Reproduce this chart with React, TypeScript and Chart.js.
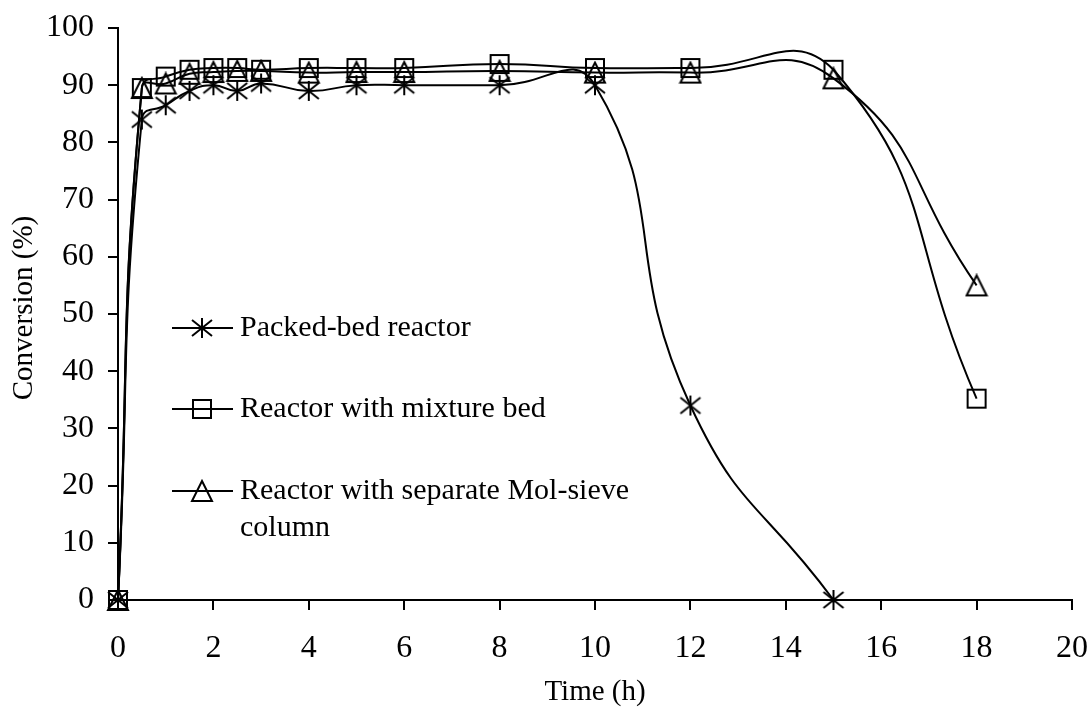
import React, { useEffect, useRef } from 'react';
import { Chart, registerables } from 'chart.js';

Chart.register(...registerables);

// ---- data ----
const timeH = [0, 0.5, 1, 1.5, 2, 2.5, 3, 4, 5, 6, 8, 10, 12, 15, 18];
const packedBed = [0, 84, 86.5, 89, 90, 89, 90.3, 89, 90, 90, 90, 90, 34, 0];
const mixtureBed = [0, 89.5, 91.5, 92.7, 93, 93, 92.7, 93, 93, 93, 93.7, 93, 93, 92.7, 35.2];
const separateColumn = [0, 89.5, 90.3, 92, 92.3, 92.5, 92.5, 92.2, 92.3, 92.3, 92.5, 92.2, 92.2, 91.2, 55];
const seriesNames = ['Packed-bed reactor', 'Reactor with mixture bed', 'Reactor with separate Mol-sieve column'];
const xTickValues = [0, 2, 4, 6, 8, 10, 12, 14, 16, 18, 20];
const yTickValues = [0, 10, 20, 30, 40, 50, 60, 70, 80, 90, 100];
const xTitle = 'Time (h)';
const yTitle = 'Conversion (%)';

const FONT = "'Liberation Serif', 'Times New Roman', serif";
const TICK_FS = 32;
const LEGEND_FS = 30;
const TITLE_FS = 29;

function makeMarker(kind: string): HTMLCanvasElement {
  const c = document.createElement('canvas');
  c.width = 24;
  c.height = 24;
  const g = c.getContext('2d')!;
  g.strokeStyle = '#000';
  g.lineWidth = 2;
  g.beginPath();
  if (kind === 'square') {
    g.rect(3, 3, 18, 18);
  } else if (kind === 'triangle') {
    g.moveTo(12, 2);
    g.lineTo(22, 22);
    g.lineTo(2, 22);
    g.closePath();
  } else {
    g.moveTo(12, 2);
    g.lineTo(12, 22);
    g.moveTo(2, 4);
    g.lineTo(22, 20);
    g.moveTo(22, 4);
    g.lineTo(2, 20);
  }
  g.stroke();
  return c;
}

function toPoints(values: number[]) {
  return values.map((v, i) => ({ x: timeH[i], y: v }));
}

export default function App() {
  const ref = useRef<HTMLCanvasElement | null>(null);

  useEffect(() => {
    if (!ref.current) return;
    const markers = [makeMarker('star'), makeMarker('square'), makeMarker('triangle')];
    const seriesValues = [packedBed, mixtureBed, separateColumn];

    const legendPlugin = {
      id: 'customLegend',
      afterDraw(chart: any) {
        const ctx = chart.ctx;
        ctx.save();
        ctx.font = `${LEGEND_FS}px ${FONT}`;
        ctx.fillStyle = '#000';
        ctx.textBaseline = 'middle';
        ctx.textAlign = 'left';
        const rowsY = [328, 409, 491];
        const maxW = 420;
        seriesNames.forEach((name, i) => {
          const y = rowsY[i];
          ctx.strokeStyle = '#000';
          ctx.lineWidth = 2;
          ctx.beginPath();
          ctx.moveTo(172, y);
          ctx.lineTo(233, y);
          ctx.stroke();
          const m = markers[i];
          ctx.drawImage(m, 202 - m.width / 2, y - m.height / 2);
          const words = name.split(' ');
          const lines: string[] = [];
          let cur = '';
          words.forEach((w) => {
            const test = cur ? cur + ' ' + w : w;
            if (ctx.measureText(test).width > maxW && cur) {
              lines.push(cur);
              cur = w;
            } else {
              cur = test;
            }
          });
          if (cur) lines.push(cur);
          lines.forEach((ln, k) => ctx.fillText(ln, 240, y + k * 37));
        });
        // y axis title
        ctx.font = `${TITLE_FS}px ${FONT}`;
        ctx.save();
        ctx.translate(24, 308);
        ctx.rotate(-Math.PI / 2);
        ctx.textAlign = 'center';
        ctx.fillText(yTitle, 0, 0);
        ctx.restore();
        ctx.restore();
      },
    };

    const chart = new Chart(ref.current, {
      type: 'line',
      data: {
        datasets: seriesValues.map((vals, i) => ({
          label: seriesNames[i],
          data: toPoints(vals),
          borderColor: '#000',
          borderWidth: 2,
          backgroundColor: 'transparent',
          pointStyle: markers[i] as any,
          pointRadius: 10,
          tension: 0.5,
          fill: false,
          clip: false as any,
        })),
      },
      options: {
        responsive: false,
        animation: false,
        layout: { padding: { left: 0, top: 28, right: 16, bottom: 0 } },
        plugins: {
          legend: { display: false },
          tooltip: { enabled: false },
        },
        scales: {
          x: {
            type: 'linear',
            min: 0,
            max: 20,
            afterBuildTicks: (s: any) => {
              s.ticks = xTickValues.map((v) => ({ value: v }));
            },
            afterFit: (s: any) => {
              s.height = 109;
              s.paddingLeft = 0;
              s.paddingRight = 0;
            },
            grid: { drawOnChartArea: false, drawTicks: true, tickLength: 10, color: '#000', lineWidth: 2 },
            border: { display: true, color: '#000', width: 2 },
            ticks: { color: '#000', font: { family: FONT, size: TICK_FS, lineHeight: 1 }, padding: 23, maxRotation: 0, autoSkip: false },
            title: {
              display: true,
              text: xTitle,
              color: '#000',
              font: { family: FONT, size: TITLE_FS, lineHeight: 1 },
              padding: { top: 0, bottom: 2 },
            },
          },
          y: {
            type: 'linear',
            min: 0,
            max: 100,
            afterBuildTicks: (s: any) => {
              s.ticks = yTickValues.map((v) => ({ value: v }));
            },
            afterFit: (s: any) => {
              s.width = 118;
              s.paddingTop = 0;
              s.paddingBottom = 0;
            },
            grid: { drawOnChartArea: false, drawTicks: true, tickLength: 10, color: '#000', lineWidth: 2 },
            border: { display: true, color: '#000', width: 2 },
            ticks: { color: '#000', font: { family: FONT, size: TICK_FS }, padding: 14, autoSkip: false },
            title: { display: false },
          },
        },
      } as any,
      plugins: [legendPlugin],
    });
    return () => chart.destroy();
  }, []);

  return (
    <div style={{ position: 'fixed', left: 0, top: 0, width: 1088, height: 709, background: '#fff' }}>
      <canvas ref={ref} width={1088} height={709} style={{ display: 'block', width: 1088, height: 709 }} />
    </div>
  );
}
